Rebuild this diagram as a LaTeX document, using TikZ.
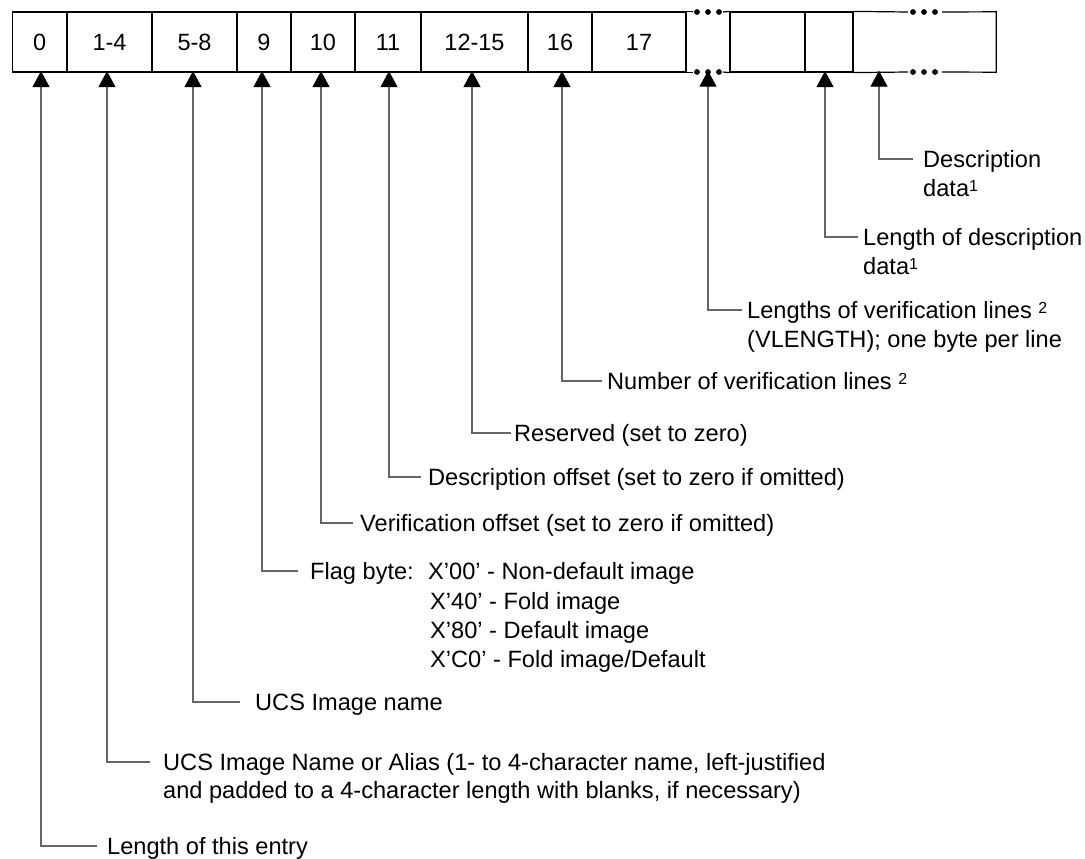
\documentclass[tikz,border=0pt]{standalone}
\usepackage{fontspec}
\setmainfont{Liberation Sans}
\usetikzlibrary{arrows.meta}
\newcommand\fnmark[1]{\raisebox{5.5pt}{\fontsize{16}{16}\selectfont #1}}
\begin{document}
\begin{tikzpicture}[x=1pt,y=-1pt,
  cell/.style={draw=black,line width=1.2pt,minimum height=60pt,inner sep=0pt,font=\fontsize{23.5}{28}\selectfont,text=black},
  gapcell/.style={draw=none,minimum height=60pt,inner sep=0pt},
  lbl/.style={anchor=base west,inner sep=0pt,font=\fontsize{23.6}{28}\selectfont,text=black},
  lead/.style={draw=black!60,line width=1.3pt,-{Triangle[width=17pt,length=16pt,color=black]},shorten >=-1.5pt},
  edgeline/.style={draw=black,line width=1.2pt}]
\useasboundingbox (0,0) rectangle (1085,859);

% ---- record cells ----
\node[cell,minimum width=54.5pt] (c0)  at (39.75,42) {0};
\node[cell,minimum width=85pt]   (c1)  at (109.5,42) {1-4};
\node[cell,minimum width=85pt]   (c5)  at (194.5,42) {5-8};
\node[cell,minimum width=54pt]   (c9)  at (264,42)   {9};
\node[cell,minimum width=64pt]   (c10) at (323,42)   {10};
\node[cell,minimum width=66pt]   (c11) at (388,42)   {11};
\node[cell,minimum width=107pt]  (c12) at (474.5,42) {12-15};
\node[cell,minimum width=64pt]   (c16) at (560,42)   {16};
\node[cell,minimum width=94pt]   (c17) at (639,42)   {17};
\node[gapcell,minimum width=44pt] (cG) at (708,42)   {};
\node[cell,minimum width=75pt]   (cA)  at (767.5,42) {};
\node[cell,minimum width=48pt]   (cB)  at (829,42)   {};
\node[gapcell,minimum width=143pt] (cC) at (924.5,42) {};

% gap with dots after 17
\draw[edgeline] (c17.north east) -- ++(6,0);
\draw[edgeline] (c17.south east) -- ++(6,0);
\draw[edgeline] (723,12) -- (cA.north west);
\draw[edgeline] (723,72) -- (cA.south west);
\foreach \x in {697,708,719}{\fill (\x,12) circle (2.9pt); \fill (\x,72) circle (2.9pt);}
% open-ended last cell
\draw[edgeline] (cB.north east) -- (908,12);
\draw[edgeline] (cB.south east) -- (908,72);
\draw[edgeline] (942,12) -- (cC.north east) -- (cC.south east) -- (942,72);
\foreach \x in {913,924,935}{\fill (\x,12) circle (2.9pt); \fill (\x,72) circle (2.9pt);}

% ---- labels ----
\node[lbl] (tD)  at (923,167.5) {Description};
\node[lbl] (tD2) at (923,196.5) {data\fnmark{1}};
\node[lbl] (tL)  at (863,245.5) {Length of description};
\node[lbl] (tL2) at (863,274.5) {data\fnmark{1}};
\node[lbl] (tV)  at (747,318.5) {Lengths of verification lines \fnmark{2}};
\node[lbl] (tV2) at (747,347) {(VLENGTH); one byte per line};
\node[lbl] (tN)  at (607,389.5) {Number of verification lines \fnmark{2}};
\node[lbl] (tR)  at (514,441.5) {Reserved (set to zero)};
\node[lbl] (tO)  at (428,485.5) {Description offset (set to zero if omitted)};
\node[lbl] (tVo) at (360,531.5) {Verification offset (set to zero if omitted)};
\node[lbl] (tF)  at (310,579.5) {Flag byte:};
\node[lbl] (tF1) at (428,579.5) {X’00’ - Non-default image};
\node[lbl] (tF2) at (430,609) {X’40’ - Fold image};
\node[lbl] (tF3) at (430,638.5) {X’80’ - Default image};
\node[lbl] (tF4) at (430,667.5) {X’C0’ - Fold image/Default};
\node[lbl] (tU)  at (255,710.5) {UCS Image name};
\node[lbl] (tA)  at (163,770.5) {UCS Image Name or Alias (1- to 4-character name, left-justified};
\node[lbl] (tA2) at (163,798.5) {and padded to a 4-character length with blanks, if necessary)};
\node[lbl] (tE)  at (107,854.5) {Length of this entry};

% ---- leader ends and corners ----
\coordinate (kD)  at (913,159);  \coordinate (jD)  at (879,159);
\coordinate (kL)  at (858,237);  \coordinate (jL)  at (825,237);
\coordinate (kV)  at (742,310);  \coordinate (jV)  at (708,310);
\coordinate (kN)  at (602,381);  \coordinate (jN)  at (562,381);
\coordinate (kR)  at (511,433);  \coordinate (jR)  at (472,433);
\coordinate (kO)  at (421,477);  \coordinate (jO)  at (389,477);
\coordinate (kVo) at (353,523);  \coordinate (jVo) at (321,523);
\coordinate (kF)  at (298,571);  \coordinate (jF)  at (262,571);
\coordinate (kU)  at (240,702);  \coordinate (jU)  at (193,702);
\coordinate (kA)  at (150,762);  \coordinate (jA)  at (107,762);
\coordinate (kE)  at (97,846);   \coordinate (jE)  at (41,846);

\draw[lead] (kD)  -- (jD)  -- (jD  |- cC.south);
\draw[lead] (kL)  -- (jL)  -- (jL  |- cB.south);
\draw[lead] (kV)  -- (jV)  -- (jV  |- cG.south);
\draw[lead] (kN)  -- (jN)  -- (jN  |- c16.south);
\draw[lead] (kR)  -- (jR)  -- (jR  |- c12.south);
\draw[lead] (kO)  -- (jO)  -- (jO  |- c11.south);
\draw[lead] (kVo) -- (jVo) -- (jVo |- c10.south);
\draw[lead] (kF)  -- (jF)  -- (jF  |- c9.south);
\draw[lead] (kU)  -- (jU)  -- (jU  |- c5.south);
\draw[lead] (kA)  -- (jA)  -- (jA  |- c1.south);
\draw[lead] (kE)  -- (jE)  -- (jE  |- c0.south);
\end{tikzpicture}
\end{document}
